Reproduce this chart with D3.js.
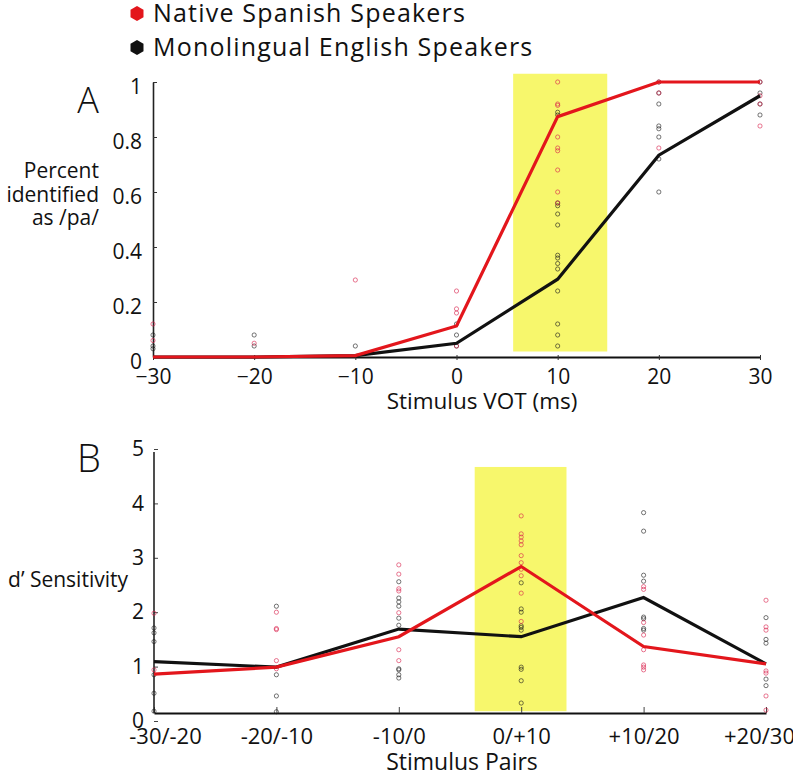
<!DOCTYPE html>
<html>
<head>
<meta charset="utf-8">
<script src="https://cdn.jsdelivr.net/npm/d3@7"></script>
<style>
  body { margin: 0; background: #fff; }
  svg { display: block; font-family: "Open Sans", "Noto Sans", sans-serif; }
</style>
</head>
<body>
<svg id="chart" width="793" height="780"></svg>
<script>
// ---------- DATA ----------
const seriesNames = ["Native Spanish Speakers", "Monolingual English Speakers"];
const seriesColors = ["#e3161c", "#111111"];
const dotColors = ["#d81e4a", "#1a1a1a"];

// Panel A: identification
const vot = [-30, -20, -10, 0, 10, 20, 30];
const votTicks = [-30, -20, -10, 0, 10, 20, 30];
const idTicks = [0, 0.2, 0.4, 0.6, 0.8, 1];
const spanishId = [0, 0, 0.005, 0.113, 0.874, 1.0, 1.0];
const englishId = [0, 0, 0.005, 0.05, 0.283, 0.734, 0.95];
const spanishIdDots = [
  [0.12, 0.06],
  [0.05],
  [0.28],
  [0.24, 0.175, 0.16, 0.04],
  [1.0, 0.92, 0.915, 0.80, 0.76, 0.75, 0.68, 0.60, 0.56],
  [1.0, 0.96, 0.76],
  [1.0, 0.95, 0.92, 0.84]
];
const englishIdDots = [
  [0.08, 0.04, 0.03],
  [0.08, 0.04],
  [0.04],
  [0.12, 0.08, 0.04],
  [0.89, 0.88, 0.56, 0.55, 0.52, 0.48, 0.37, 0.36, 0.34, 0.32, 0.24, 0.12, 0.08, 0.04],
  [1.0, 0.96, 0.92, 0.84, 0.83, 0.80, 0.72, 0.60],
  [1.0, 0.96, 0.92, 0.88]
];
const highlightA = { x0: 5.6, x1: 14.9, y0: 0.02, y1: 1.03 };

// Panel B: discrimination
const pairs = ["-30/-20", "-20/-10", "-10/0", "0/+10", "+10/20", "+20/30"];
const dTicks = [0, 1, 2, 3, 4, 5];
const spanishD = [0.86, 0.99, 1.55, 2.84, 1.37, 1.05];
const englishD = [1.09, 0.99, 1.69, 1.55, 2.27, 1.05];
const spanishDDots = [
  [1.98, 0.94],
  [2.0, 1.70, 1.68, 1.11, 0.96],
  [2.87, 2.70, 2.43, 2.39, 1.99, 1.31, 1.11],
  [3.77, 3.44, 3.38, 3.31, 3.24, 3.04, 2.91, 2.79, 2.67, 2.35, 1.83],
  [2.47, 2.42, 1.81, 1.58, 1.31, 1.03, 0.99, 0.94],
  [2.22, 1.73, 1.67, 0.92, 0.88, 0.46, 0.20]
];
const englishDDots = [
  [1.71, 1.62, 1.46, 0.85, 0.51, 0.18],
  [2.11, 0.85, 0.46, 0.17],
  [2.56, 2.26, 2.19, 2.11, 1.89, 1.76, 0.96, 0.94, 0.85, 0.79],
  [2.54, 2.06, 2.00, 1.75, 1.72, 1.67, 0.99, 0.95, 0.74, 0.33],
  [3.83, 3.49, 2.68, 2.57, 1.91, 1.88, 1.70, 1.67],
  [1.90, 1.50, 1.43, 0.77, 0.65]
];
const highlightB = { x0: 2.62, x1: 3.37, y0: 0.18, y1: 4.67 };

// ---------- DRAWING ----------
const svg = d3.select("#chart");
const yellow = "#f7f76c";
const dotOpacity = [0.6, 0.6];

// Legend
const hex = (cx, cy, r) => {
  const pts = d3.range(6).map(i => {
    const a = Math.PI / 3 * i - Math.PI / 2;
    return [cx + r * Math.cos(a), cy + r * Math.sin(a)];
  });
  return "M" + pts.map(p => p.join(",")).join("L") + "Z";
};
const legend = svg.append("g");
seriesNames.forEach((name, i) => {
  const cy = 13.5 + i * 34;
  legend.append("path").attr("d", hex(137, cy, 7.5)).attr("fill", seriesColors[i]);
  legend.append("text").attr("x", 153).attr("y", cy + 8.5)
    .attr("font-size", 25).attr("font-weight", 500).attr("letter-spacing", 1.2)
    .attr("fill", "#111").text(name);
});

// ----- Panel A -----
const xA = d3.scaleLinear().domain([-30, 30]).range([153, 760]);
const yA = d3.scaleLinear().domain([0, 1]).range([357, 82]);
const gA = svg.append("g");

gA.append("rect")
  .attr("x", xA(highlightA.x0)).attr("y", yA(highlightA.y1))
  .attr("width", xA(highlightA.x1) - xA(highlightA.x0))
  .attr("height", yA(highlightA.y0) - yA(highlightA.y1))
  .attr("fill", yellow);

const axAx = gA.append("g").attr("transform", `translate(0,${yA(0)})`)
  .call(d3.axisBottom(xA).tickValues(votTicks).tickSizeInner(-5).tickSizeOuter(0).tickPadding(12));
axAx.select(".domain").attr("stroke", "#111").attr("stroke-width", 2.2);
axAx.selectAll(".tick line").attr("stroke", "#333").attr("transform", "translate(0,3)");
axAx.selectAll("text").attr("font-size", 21).attr("font-weight", 500).attr("fill", "#111").attr("font-family", "Open Sans");

const axAy = gA.append("g").attr("transform", `translate(${xA(-30)},0)`)
  .call(d3.axisLeft(yA).tickValues(idTicks).tickFormat(d3.format("~g")).tickSizeInner(-4).tickSizeOuter(0).tickPadding(11));
axAy.select(".domain").attr("stroke", "#222").attr("stroke-width", 1.6);
axAy.selectAll(".tick line").attr("stroke", "#333");
axAy.selectAll("text").attr("font-size", 21).attr("font-weight", 500).attr("fill", "#111").attr("dy", "0.55em").attr("font-family", "Open Sans");

const lineA = d3.line().x((d, i) => xA(vot[i])).y(d => yA(d));
[englishIdDots, spanishIdDots].forEach((set, k) => {
  const s = k === 0 ? 1 : 0;
  set.forEach((vals, i) => {
    gA.selectAll(null).data(vals).enter().append("circle")
      .attr("cx", xA(vot[i])).attr("cy", d => yA(d)).attr("r", 2.1)
      .attr("fill", "none").attr("stroke", dotColors[s]).attr("stroke-width", 1).attr("stroke-opacity", dotOpacity[s]);
  });
});
gA.append("path").datum(englishId).attr("d", lineA).attr("fill", "none")
  .attr("stroke", seriesColors[1]).attr("stroke-width", 3.2);
gA.append("path").datum(spanishId).attr("d", lineA).attr("fill", "none")
  .attr("stroke", seriesColors[0]).attr("stroke-width", 3.2);

gA.append("text").attr("x", 88).attr("y", 113).attr("text-anchor", "middle")
  .attr("font-size", 36).attr("font-weight", 300).attr("fill", "#111").text("A");
const yTitleA = gA.append("text").attr("text-anchor", "end").attr("font-size", 21)
  .attr("font-weight", 500).attr("fill", "#111");
["Percent", "identified", "as /pa/"].forEach((t, i) => {
  yTitleA.append("tspan").attr("x", 99).attr("y", 178 + i * 23.5).text(t);
});
gA.append("text").attr("x", 482).attr("y", 409).attr("text-anchor", "middle")
  .attr("font-size", 22.5).attr("font-weight", 500).attr("fill", "#111").text("Stimulus VOT (ms)");

// ----- Panel B -----
const xB = d3.scaleLinear().domain([0, pairs.length - 1]).range([154, 766]);
const yB = d3.scaleLinear().domain([0, 5]).range([721, 449]);
const plotBTop = 452, plotBBottom = 713;
const gB = svg.append("g");

gB.append("rect")
  .attr("x", xB(highlightB.x0)).attr("y", yB(highlightB.y1))
  .attr("width", xB(highlightB.x1) - xB(highlightB.x0))
  .attr("height", yB(highlightB.y0) - yB(highlightB.y1))
  .attr("fill", yellow);

const axBx = gB.append("g").attr("transform", `translate(0,${plotBBottom})`)
  .call(d3.axisBottom(xB).tickValues(d3.range(pairs.length)).tickFormat(i => pairs[i])
    .tickSizeInner(-6).tickSizeOuter(0).tickPadding(15));
axBx.select(".domain").attr("stroke", "#111").attr("stroke-width", 2);
axBx.selectAll(".tick line").attr("stroke", "#444");
axBx.selectAll("text").attr("font-size", 22).attr("font-weight", 500).attr("fill", "#111").attr("font-family", "Open Sans");
axBx.selectAll(".tick").filter((d, i) => i === 0).select("text").attr("dx", 11);
axBx.selectAll(".tick").filter((d, i) => i === pairs.length - 1).select("text").attr("dx", -7);

const axBy = gB.append("g").attr("transform", `translate(${xB(0)},0)`)
  .call(d3.axisLeft(yB).tickValues(dTicks).tickFormat(d3.format("d")).tickSizeInner(-4).tickSizeOuter(0).tickPadding(10));
axBy.select(".domain").remove();
axBy.selectAll(".tick line").attr("stroke", "#444");
axBy.selectAll("text").attr("font-size", 21).attr("font-weight", 500).attr("fill", "#111").attr("font-family", "Open Sans");
gB.append("line").attr("x1", xB(0)).attr("x2", xB(0)).attr("y1", plotBTop).attr("y2", plotBBottom)
  .attr("stroke", "#222").attr("stroke-width", 1.6);

const lineB = d3.line().x((d, i) => xB(i)).y(d => yB(d));
[englishDDots, spanishDDots].forEach((set, k) => {
  const s = k === 0 ? 1 : 0;
  set.forEach((vals, i) => {
    gB.selectAll(null).data(vals).enter().append("circle")
      .attr("cx", xB(i)).attr("cy", d => yB(d)).attr("r", 2.1)
      .attr("fill", "none").attr("stroke", dotColors[s]).attr("stroke-width", 1).attr("stroke-opacity", dotOpacity[s]);
  });
});
gB.append("path").datum(englishD).attr("d", lineB).attr("fill", "none")
  .attr("stroke", seriesColors[1]).attr("stroke-width", 3.2);
gB.append("path").datum(spanishD).attr("d", lineB).attr("fill", "none")
  .attr("stroke", seriesColors[0]).attr("stroke-width", 3.2);

gB.append("text").attr("x", 89).attr("y", 472).attr("text-anchor", "middle")
  .attr("font-size", 38).attr("font-weight", 300).attr("fill", "#111").text("B");
gB.append("text").attr("x", 128).attr("y", 587).attr("text-anchor", "end")
  .attr("font-size", 21).attr("font-weight", 500).attr("fill", "#111").text("d’ Sensitivity");
gB.append("text").attr("x", 462).attr("y", 770).attr("text-anchor", "middle")
  .attr("font-size", 23).attr("font-weight", 500).attr("fill", "#111").text("Stimulus Pairs");
</script>
</body>
</html>
